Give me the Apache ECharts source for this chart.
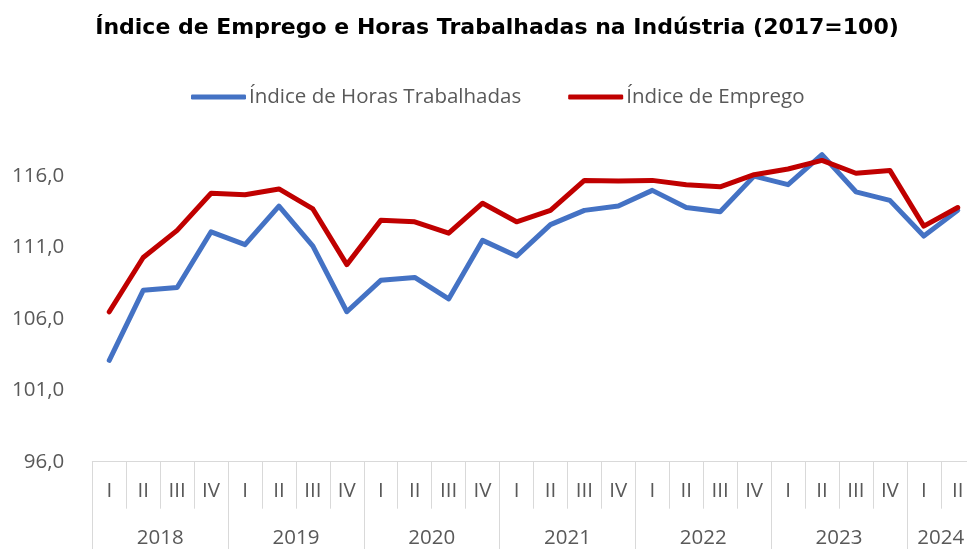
<!DOCTYPE html>
<html>
<head>
<meta charset="utf-8">
<script src="https://cdn.jsdelivr.net/npm/echarts@6/dist/echarts.min.js"></script>
<style>
html,body{margin:0;padding:0;background:#fff;}
#chart{width:967px;height:549px;}
</style>
</head>
<body>
<div id="chart"></div>
<script>
// ---- data ----
const quarterLabels = ['I','II','III','IV','I','II','III','IV','I','II','III','IV','I','II','III','IV','I','II','III','IV','I','II','III','IV','I','II'];
const yearOfQuarter = ['2018','2018','2018','2018','2019','2019','2019','2019','2020','2020','2020','2020','2021','2021','2021','2021','2022','2022','2022','2022','2023','2023','2023','2023','2024','2024'];
const horasTrabalhadas = [103.1,108.0,108.2,112.1,111.2,113.9,111.1,106.5,108.7,108.9,107.4,111.5,110.4,112.6,113.6,113.9,115.0,113.8,113.5,116.0,115.4,117.5,114.9,114.3,111.8,113.6];
const emprego = [106.5,110.3,112.2,114.8,114.7,115.1,113.7,109.8,112.9,112.8,112.0,114.1,112.8,113.6,115.7,115.65,115.7,115.4,115.25,116.1,116.5,117.1,116.2,116.4,112.5,113.8];
const yTickMin = 96, yTickMax = 121, yTickStep = 5;

// ---- derived year groups ----
const groupBounds = [0];
const groupCenters = [];
const groupNames = [];
let start = 0;
for (let i = 1; i <= yearOfQuarter.length; i++) {
  if (i === yearOfQuarter.length || yearOfQuarter[i] !== yearOfQuarter[i-1]) {
    groupBounds.push(i);
    groupCenters.push((start + i) / 2);
    groupNames.push(yearOfQuarter[start]);
    start = i;
  }
}

const FONT = 'Open Sans';
const FS = 20.5;
const GRAY = '#595959';
const LINE = '#d9d9d9';
const chart = echarts.init(document.getElementById('chart'), null, {renderer:'canvas'});
chart.setOption({
  animation: false,
  backgroundColor: '#fff',
  title: {
    text: 'Índice de Emprego e Horas Trabalhadas na Indústria (2017=100)',
    left: 497, top: 17, textAlign: 'center', padding: 0,
    textStyle: {fontFamily: 'DejaVu Sans', fontWeight: 'bold', fontSize: 22, color: '#000'}
  },
  legend: {
    left: 191, top: 86, padding: 0,
    icon: 'roundRect',
    itemWidth: 55, itemHeight: 5, itemGap: 47,
    textStyle: {fontFamily: FONT, fontSize: FS, lineHeight: 22, color: GRAY, padding: [0,0,0,-2]},
    data: ['Índice de Horas Trabalhadas', 'Índice de Emprego']
  },
  grid: {left: 92.3, top: 104.7, width: 882.4, height: 357, containLabel: false, outerBoundsMode: 'none'},
  xAxis: [
    {
      type: 'category', position: 'bottom', data: quarterLabels, boundaryGap: true,
      axisLine: {show: true, lineStyle: {color: LINE, width: 1}},
      axisTick: {show: true, interval: 0, length: 47, lineStyle: {color: LINE, width: 1}},
      axisLabel: {interval: 0, margin: 19, fontFamily: FONT, fontSize: FS, color: GRAY},
      splitLine: {show: false}
    },
    {
      type: 'value', position: 'bottom', min: 0, max: quarterLabels.length, offset: 0,
      axisLine: {show: false},
      axisTick: {show: true, customValues: groupBounds, length: 95, lineStyle: {color: LINE, width: 1}},
      axisLabel: {show: true, customValues: groupCenters, margin: 66, fontFamily: FONT, fontSize: FS, color: GRAY,
        formatter: function (v) { const k = groupCenters.indexOf(v); return k >= 0 ? groupNames[k] : ''; }},
      splitLine: {show: false}
    }
  ],
  yAxis: {
    type: 'value', min: yTickMin, max: yTickMax, interval: yTickStep,
    axisLine: {show: false}, axisTick: {show: false}, splitLine: {show: false},
    axisLabel: {margin: 28, fontFamily: FONT, fontSize: FS, color: GRAY,
      formatter: function (v) { return v > 116.5 ? '' : v.toFixed(1).replace('.', ','); }}
  },
  series: [
    {name: 'Índice de Horas Trabalhadas', type: 'line', xAxisIndex: 0, data: horasTrabalhadas, symbol: 'none',
      lineStyle: {color: '#4472C4', width: 5, cap: 'round', join: 'round'}, itemStyle: {color: '#4472C4'}},
    {name: 'Índice de Emprego', type: 'line', xAxisIndex: 0, data: emprego, symbol: 'none',
      lineStyle: {color: '#C00000', width: 5, cap: 'round', join: 'round'}, itemStyle: {color: '#C00000'}}
  ]
});
</script>
</body>
</html>
